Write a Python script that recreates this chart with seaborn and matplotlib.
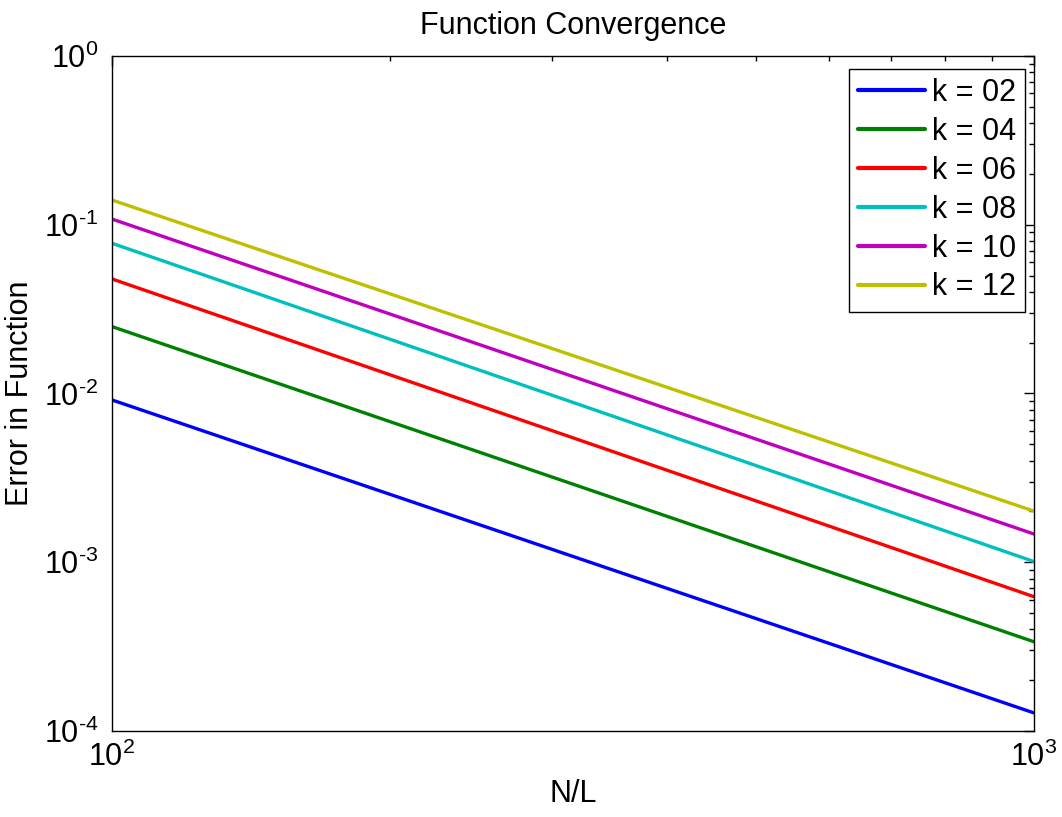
import numpy as np
import pandas as pd
import seaborn as sns
import matplotlib
matplotlib.use("Agg")
import matplotlib.pyplot as plt
from matplotlib.ticker import LogLocator, NullFormatter, FuncFormatter

# values (endpoints of each straight log-log line)
n_over_l = [100, 1000]
labels = ['k = 02', 'k = 04', 'k = 06', 'k = 08', 'k = 10', 'k = 12']
err_k02 = [0.00915, 0.000128]
err_k04 = [0.0249, 0.000338]
err_k06 = [0.0477, 0.000625]
err_k08 = [0.0776, 0.00101]
err_k10 = [0.108, 0.00147]
err_k12 = [0.140, 0.00201]
colors = ['#0000ff', '#008000', '#ff0000', '#00bfbf', '#bf00bf', '#bfbf00']

errs = [err_k02, err_k04, err_k06, err_k08, err_k10, err_k12]
df = pd.DataFrame({
    'N/L': n_over_l * len(labels),
    'err': [v for e in errs for v in e],
    'k': [lab for lab in labels for _ in n_over_l],
})

sns.set_style("white")
plt.rcParams['font.family'] = ['Liberation Sans', 'DejaVu Sans']
plt.rcParams['mathtext.fontset'] = 'custom'
plt.rcParams['mathtext.rm'] = 'Liberation Sans'
plt.rcParams['axes.unicode_minus'] = False
for key in ['text.color', 'axes.labelcolor', 'xtick.color', 'ytick.color']:
    plt.rcParams[key] = 'black'


def pow10(v, pos):
    e = int(round(np.log10(v)))
    if e < 0:
        return r'$\mathdefault{10^{\text{-%d}}}$' % (-e)
    return r'$\mathdefault{10^{%d}}$' % e


fig = plt.figure(figsize=(10.62, 8.17), dpi=100)
ax = fig.add_axes([0.1055, 0.1053, 0.868, 0.8262])

sns.lineplot(data=df, x='N/L', y='err', hue='k', palette=colors, linewidth=2.4, ax=ax)
ax.set_xscale('log')
ax.set_yscale('log')
ax.set_xlim(100, 1000)
ax.set_ylim(1e-4, 1)

ax.xaxis.set_minor_locator(LogLocator(base=10, subs=np.arange(2, 10)))
ax.yaxis.set_minor_locator(LogLocator(base=10, subs=np.arange(2, 10)))
ax.xaxis.set_minor_formatter(NullFormatter())
ax.yaxis.set_minor_formatter(NullFormatter())
ax.xaxis.set_major_formatter(FuncFormatter(pow10))
ax.yaxis.set_major_formatter(FuncFormatter(pow10))
ax.tick_params(which='both', direction='in', top=True, right=True, labelsize=22)
ax.tick_params(which='major', length=7, width=1)
ax.tick_params(which='minor', length=3.5, width=1)
ax.tick_params(axis='x', pad=8)
ax.tick_params(axis='y', pad=10)
for sp in ax.spines.values():
    sp.set_color('black')
    sp.set_linewidth(1)

ax.set_title('Function Convergence', fontsize=22, pad=16)
ax.set_xlabel('N/L', fontsize=22, labelpad=4)
ax.set_ylabel('Error in Function', fontsize=22, labelpad=6)

leg = ax.legend(loc='upper right', bbox_to_anchor=(1 - 9 / 922, 1 - 13 / 675), borderaxespad=0,
                fontsize=22, handlelength=2.2, handletextpad=0.2, labelspacing=0.29,
                borderpad=0.3, fancybox=False, framealpha=1)
leg.get_frame().set_edgecolor('black')
leg.get_frame().set_linewidth(1)
for line in leg.get_lines():
    line.set_linewidth(3)

fig.savefig('out.png', dpi=100)
